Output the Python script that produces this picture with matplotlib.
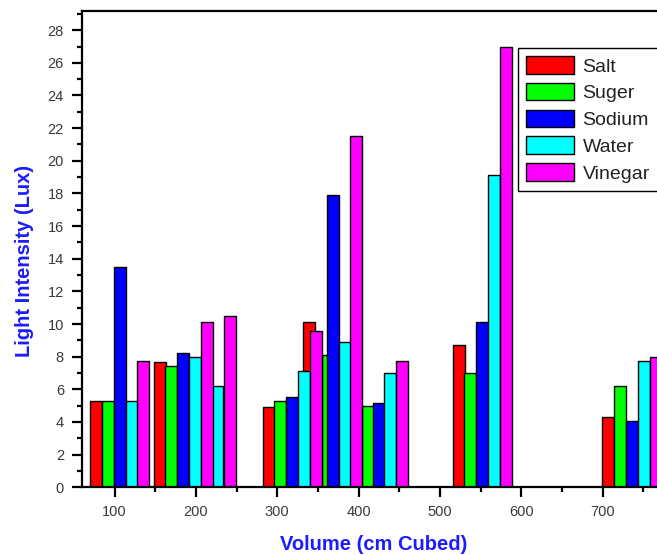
import numpy as np
import matplotlib
matplotlib.use("Agg")
from matplotlib import pyplot as plt
from matplotlib.ticker import MultipleLocator

# volume positions (cm cubed) and light intensity (lux)
salt_x = [77.5, 155.8, 289.8, 339.6, 523.0, 706.8]
salt_y = [5.3, 7.7, 4.9, 10.1, 8.7, 4.3]

suger_x = [92.3, 169.7, 303.5, 362.8, 411.6, 537.3, 721.8]
suger_y = [5.3, 7.4, 5.3, 8.1, 4.95, 7.0, 6.2]

sodium_x = [107.0, 184.5, 318.1, 368.5, 425.5, 552.1, 736.5]
sodium_y = [13.5, 8.2, 5.55, 17.9, 5.15, 10.1, 4.05]

water_x = [121.8, 199.2, 226.3, 333.0, 382.8, 439.0, 567.1, 751.3]
water_y = [5.3, 8.0, 6.2, 7.15, 8.9, 7.0, 19.1, 7.75]

vinegar_x = [135.5, 214.0, 241.5, 348.0, 397.2, 452.9, 581.6, 765.3]
vinegar_y = [7.75, 10.1, 10.5, 9.55, 21.5, 7.75, 27.0, 8.0]

series = [("Salt", salt_x, salt_y, "#ff0000"),
          ("Suger", suger_x, suger_y, "#00ff00"),
          ("Sodium", sodium_x, sodium_y, "#0000ff"),
          ("Water", water_x, water_y, "#00ffff"),
          ("Vinegar", vinegar_x, vinegar_y, "#ff00ff")]

plt.rcParams['font.family'] = ['Liberation Sans', 'DejaVu Sans']

fig = plt.figure(figsize=(6.57, 5.55), dpi=100, facecolor='w')
# axes runs past the right edge of the picture, like the original crop
ax = fig.add_axes([82 / 657, 67.7 / 555, 585.6 / 657, 475.9 / 555])

bar_w = 14.7
for name, xs, ys, col in series:
    ax.bar(xs, ys, width=bar_w, color=col, edgecolor='black',
           linewidth=1.0, label=name)

ax.set_xlim(60, 780)
ax.set_ylim(0, 29.15)

ax.xaxis.set_major_locator(MultipleLocator(100))
ax.xaxis.set_minor_locator(MultipleLocator(50))
ax.yaxis.set_major_locator(MultipleLocator(2))
ax.yaxis.set_minor_locator(MultipleLocator(1))
ax.set_xticks(np.arange(100, 701, 100))

ax.tick_params(which='both', direction='out', top=False, right=False,
               width=1.6, colors='black', labelcolor='#3a3a3a', labelsize=10.5)
ax.tick_params(which='major', length=7, pad=6)
ax.tick_params(which='minor', length=3.5)
for sp in ax.spines.values():
    sp.set_linewidth(1.6)

blue = '#1c1cff'
ax.set_xlabel("Volume (cm Cubed)", fontsize=14.5, fontweight='bold', color=blue)
ax.set_ylabel("Light Intensity (Lux)", fontsize=14.5, fontweight='bold', color=blue)
ax.xaxis.set_label_coords((374 - 82) / 585.6, -(544 - 487.3) / 475.9)
ax.yaxis.set_label_coords((25 - 82) / 585.6, (487.3 - 261) / 475.9)
ax.xaxis.label.set_va('center')
ax.yaxis.label.set_va('center')

leg = ax.legend(loc='upper left', bbox_to_anchor=(0.7445, 0.923),
                borderaxespad=0, fontsize=14, handlelength=2.45,
                handleheight=1.0, handletextpad=0.45, labelspacing=0.38,
                borderpad=0.42, fancybox=False, framealpha=1)
leg.get_frame().set_edgecolor('black')
leg.get_frame().set_linewidth(1.0)
for t in leg.get_texts():
    t.set_color('#222222')

fig.savefig("out.png", dpi=100)
